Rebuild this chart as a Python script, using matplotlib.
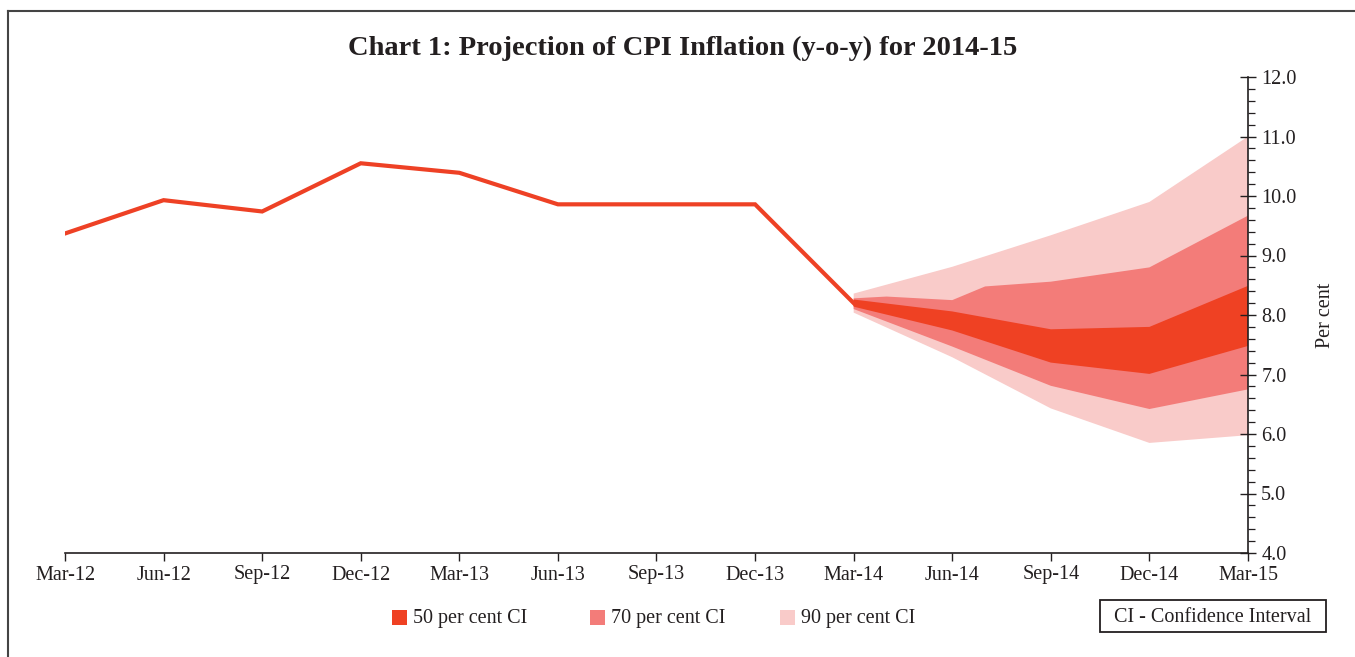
import matplotlib
matplotlib.use("Agg")
import matplotlib.pyplot as plt
from matplotlib.patches import Rectangle
from matplotlib.lines import Line2D
from matplotlib.ticker import MultipleLocator

# ---------------- data ----------------
tick_labels = ["Mar-12", "Jun-12", "Sep-12", "Dec-12", "Mar-13", "Jun-13", "Sep-13",
               "Dec-13", "Mar-14", "Jun-14", "Sep-14", "Dec-14", "Mar-15"]
# months since Mar-12
hist_x = [0, 3, 6, 9, 12, 15, 18, 21, 24]
hist_y = [9.37, 9.93, 9.74, 10.55, 10.39, 9.86, 9.86, 9.86, 8.20]

fan_x = [24, 27, 30, 33, 36]
ci90_upper = [8.36, 8.81, 9.34, 9.90, 11.00]
ci90_lower = [8.04, 7.29, 6.43, 5.85, 5.98]
ci70_upper_x = [24, 25, 27, 28, 30, 33, 36]
ci70_upper = [8.28, 8.31, 8.25, 8.48, 8.56, 8.80, 9.67]
ci70_lower = [8.10, 7.47, 6.81, 6.42, 6.75]
ci50_upper = [8.26, 8.06, 7.76, 7.80, 8.49]
ci50_lower = [8.14, 7.74, 7.20, 7.01, 7.48]

legend_labels = ["50 per cent CI", "70 per cent CI", "90 per cent CI"]
c50, c70, c90 = "#EF4123", "#F37C79", "#F9CBC9"
line_color = "#EE4125"
text_color = "#231F20"

plt.rcParams["font.family"] = ["Liberation Serif", "DejaVu Serif"]

W, H = 1355, 657
fig = plt.figure(figsize=(W / 100, H / 100), dpi=100)
ax = fig.add_axes([65 / W, 1 - 553 / H, (1248 - 65) / W, (553 - 77) / H])


def band(xu, yu, xl, yl, color):
    xs = list(xu) + list(xl)[::-1]
    ys = list(yu) + list(yl)[::-1]
    ax.fill(xs, ys, color=color, lw=0, zorder=1)


band(fan_x, ci90_upper, fan_x, ci90_lower, c90)
band(ci70_upper_x, ci70_upper, fan_x, ci70_lower, c70)
band(fan_x, ci50_upper, fan_x, ci50_lower, c50)
ax.plot(hist_x, hist_y, color=line_color, lw=3.0, solid_joinstyle="miter", zorder=3)

ax.set_xlim(0, 36)
ax.set_ylim(4, 12)
ax.set_xticks(range(0, 37, 3))
ax.set_xticklabels(tick_labels)
ax.yaxis.set_major_locator(MultipleLocator(1))
ax.yaxis.set_minor_locator(MultipleLocator(0.2))
ax.yaxis.set_major_formatter(matplotlib.ticker.FormatStrFormatter("%.1f"))
ax.yaxis.tick_right()
ax.yaxis.set_label_position("right")

for s in ["left", "top"]:
    ax.spines[s].set_visible(False)
for s in ["right", "bottom"]:
    ax.spines[s].set_color(text_color)
    ax.spines[s].set_linewidth(1.2)

ax.tick_params(axis="x", direction="out", length=6, width=1.0, color=text_color,
               labelsize=14.5, labelcolor=text_color, pad=3)
ax.tick_params(axis="y", which="major", direction="inout", length=11, width=1.0,
               color=text_color, labelsize=14.5, labelcolor=text_color, pad=4)
ax.tick_params(axis="y", which="minor", direction="out", length=5, width=0.9,
               color=text_color)
ax.set_ylabel("Per cent", fontsize=14.5, color=text_color, labelpad=14)

# title
fig.text(683 / W, 1 - 48 / H, "Chart 1: Projection of CPI Inflation (y-o-y) for 2014-15",
         ha="center", va="center", fontsize=20.5, fontweight="bold", color=text_color)

# legend (manual)
leg_x = [392, 590, 780]
colors = [c50, c70, c90]
for lx, col, lab in zip(leg_x, colors, legend_labels):
    fig.patches.append(Rectangle((lx / W, 1 - 625 / H), 15 / W, 15 / H,
                                 transform=fig.transFigure, color=col, lw=0))
    fig.text((lx + 21) / W, 1 - 619 / H, lab, ha="left", va="center",
             fontsize=14.5, color=text_color)

# CI box
fig.patches.append(Rectangle((1100 / W, 1 - 632 / H), 226 / W, 32 / H,
                             transform=fig.transFigure, fill=False,
                             edgecolor=text_color, lw=1.3))
fig.text(1213 / W, 1 - 618 / H, "CI - Confidence Interval", ha="center", va="center",
         fontsize=14.5, color=text_color)

# frame lines (top and left)
fig.add_artist(Line2D([8 / W, 8 / W], [0, 1 - 11 / H], transform=fig.transFigure,
                      color="#444444", lw=1.5))
fig.add_artist(Line2D([8 / W, 1], [1 - 11 / H, 1 - 11 / H], transform=fig.transFigure,
                      color="#444444", lw=1.5))

fig.savefig("out.png", dpi=100)
